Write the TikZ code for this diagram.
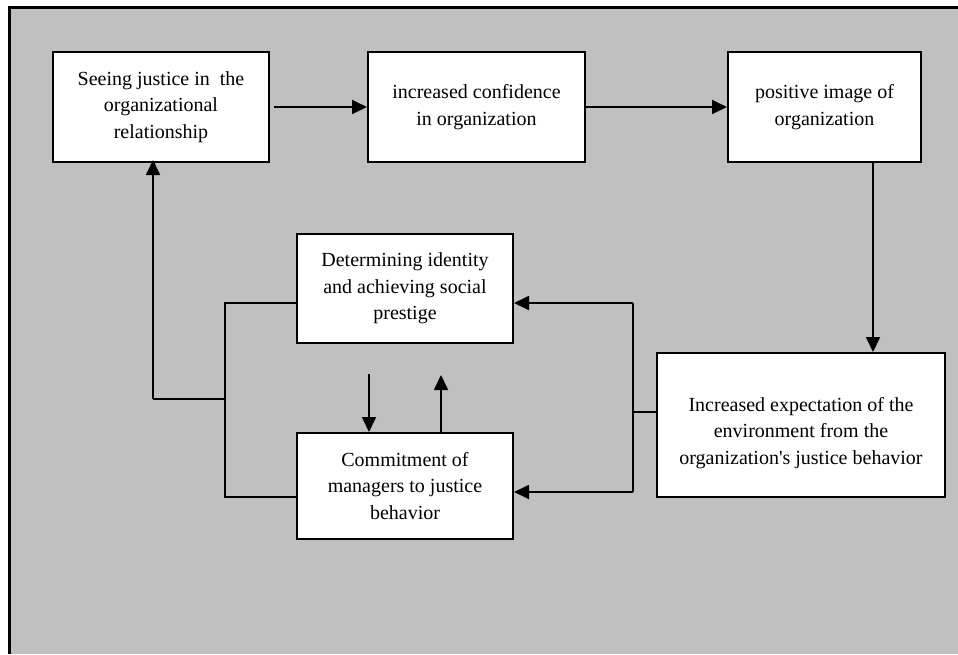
\documentclass[tikz,border=0pt]{standalone}
\usepackage{fontspec}
\setmainfont{Liberation Serif}
\newfontfamily\qfont{Liberation Serif}
\usetikzlibrary{arrows.meta}
\definecolor{bggray}{RGB}{192,192,192}
\tikzset{
  box/.style={draw=black, line width=2pt, fill=white, inner sep=0pt, align=center,
    font=\fontsize{20}{26.5}\selectfont},
  conn/.style={line width=1.8pt},
  arr/.style={conn, -{Triangle[length=15pt,width=14pt]}},
}
\begin{document}
\begin{tikzpicture}[x=1pt,y=-1pt]
\useasboundingbox (0,0) rectangle (958,654);
\fill[bggray] (9,7) rectangle (958,654);
\draw[line width=3pt] (958,7) -- (9,7) -- (9,654);

\node[box, minimum width=216pt, minimum height=110pt] (b1) at (161,107)
  {Seeing justice in\ \ the\\organizational\\relationship};
\node[box, minimum width=217pt, minimum height=110pt] (b2) at (476.5,107)
  {increased confidence\\in organization};
\node[box, minimum width=193pt, minimum height=110pt] (b3) at (824.5,107)
  {positive image of\\organization};
\node[box, minimum width=216pt, minimum height=109pt] (b4) at (405,288.5)
  {Determining identity\\and achieving social\\prestige};
\node[box, minimum width=216pt, minimum height=106pt] (b5) at (405,486)
  {Commitment of\\managers to justice\\behavior};
\node[box, minimum width=288pt, minimum height=144pt] (b6) at (801,425) {};
\node[align=center, inner sep=0pt, font=\fontsize{20}{26.5}\selectfont] (b6t) at ([yshift=-8pt]b6.center)
  {Increased expectation of the\\environment from the\\organization{\qfont\char"27}s justice behavior};

% top row
\draw[arr] ([xshift=4pt]b1.east) -- (b2.west);
\draw[arr] (b2.east) -- (b3.west);
\coordinate (c) at (873,0);
\draw[arr] (b3.south -| c) -- (b6.north -| c);

% right bracket
\coordinate (rj) at (633,412);
\coordinate (rt) at (633,303);
\coordinate (rb) at (633,492);
\draw[conn] (b6.west |- rj) -- (rj);
\draw[conn] (rt) -- (rb);
\draw[arr] (rt) -- (rt -| b4.east);
\draw[arr] (rb) -- (rb -| b5.east);

% left bracket
\coordinate (lt) at (225,303);
\coordinate (lb) at (225,497);
\coordinate (lm) at (225,399);
\coordinate (lf) at (153,399);
\draw[conn] (b4.west |- lt) -- (lt) -- (lb) -- (b5.west |- lb);
\draw[conn] (lm) -- (lf);
\draw[arr] (lf) -- ([yshift=3pt]lf |- b1.south);

% middle arrows
\coordinate (d1) at (369,374);
\coordinate (u1) at (441,375);
\draw[arr] (d1) -- (d1 |- b5.north);
\draw[arr] (u1 |- b5.north) -- (u1);
\end{tikzpicture}
\end{document}
